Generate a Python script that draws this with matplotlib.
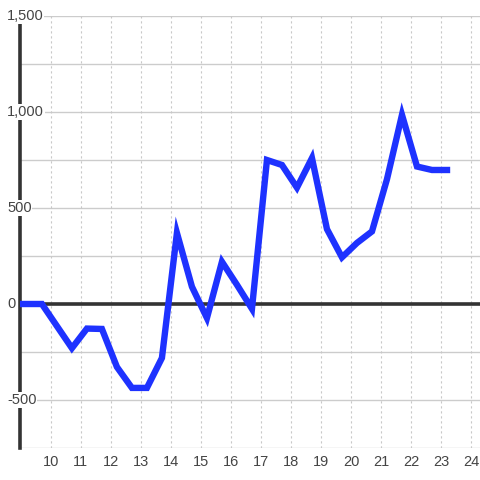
import matplotlib
matplotlib.use("Agg")
import matplotlib.pyplot as plt

# half-hour readings
hours = [8.7, 9.7, 10.7, 11.2, 11.7, 12.2, 12.7, 13.2, 13.7, 14.2, 14.7, 15.2, 15.7,
         16.2, 16.7, 17.2, 17.7, 18.2, 18.7, 19.2, 19.7, 20.2, 20.7, 21.2, 21.7,
         22.2, 22.7, 23.2]
values = [0, 0, -230, -128, -130, -328, -437, -437, -281, 370, 90, -73, 220,
          100, -25, 750, 724, 606, 760, 390, 243, 318, 378, 650, 985,
          716, 698, 698]

x_ticks = list(range(10, 25))
y_ticks = [1500, 1000, 500, 0, -500]
y_labels = ["1,500", "1,000", "500", "0", "-500"]

plt.rcParams['font.family'] = ['Liberation Sans', 'DejaVu Sans']

fig = plt.figure(figsize=(4.8, 4.8), dpi=100)
ax = fig.add_axes([20 / 480, 32 / 480, 460 / 480, 432 / 480])

ax.set_xlim(8.97, 24.3)
ax.set_ylim(-750, 1500)

# grid
for yv in range(-750, 1501, 250):
    ax.axhline(yv, color='#cccccc', lw=1, zorder=1)
for xv in x_ticks:
    ax.axvline(xv, color='#c8c8c8', lw=0.8, ls=(0, (2, 2.5)), zorder=1)

ax.axhline(0, color='#333333', lw=2.6, zorder=2)

ax.plot(hours, values, color='#1e32ff', lw=4.6, solid_joinstyle='miter', zorder=3)

for s in ['top', 'right', 'bottom']:
    ax.spines[s].set_visible(False)
ax.spines['left'].set_color('#333333')
ax.spines['left'].set_linewidth(2.6)
ax.spines['left'].set_zorder(2.5)

ax.set_yticks([])
ax.set_xticks(x_ticks)
ax.set_xticklabels([str(x) for x in x_ticks], fontsize=10.5, color='#444444')
ax.tick_params(axis='x', length=0, pad=5)

# y labels sit over the axis with a white backing
for yv, lab in zip(y_ticks, y_labels):
    ax.text(7 / 480, yv, lab, transform=ax.get_yaxis_transform().__class__(fig.transFigure, ax.transData),
            ha='left', va='center', fontsize=10.5, color='#444444', zorder=4,
            bbox=dict(facecolor='white', edgecolor='none', pad=0.5))

fig.savefig('out.png', dpi=100)
